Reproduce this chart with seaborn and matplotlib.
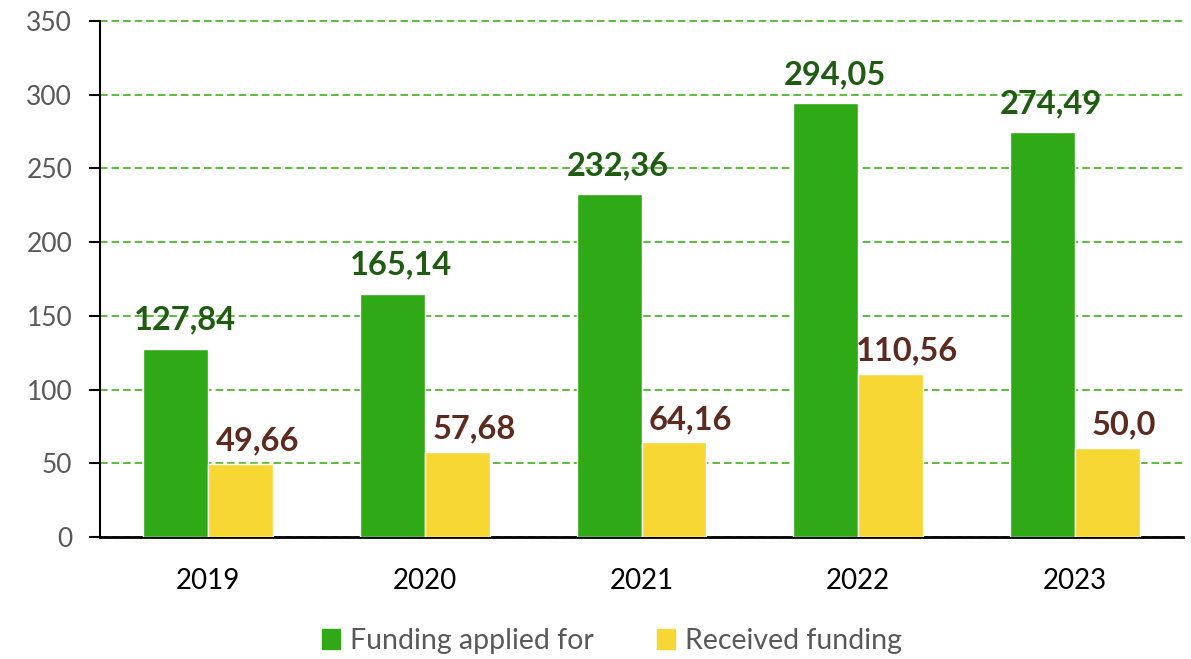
import pandas as pd
import matplotlib.pyplot as plt
import seaborn as sns

# Dữ liệu
years = ["2019", "2020", "2021", "2022", "2023"]
applied = [127.84, 165.14, 232.36, 294.05, 274.49]
received = [49.66, 57.68, 64.16, 110.56, 60.4]
applied_labels = ["127,84", "165,14", "232,36", "294,05", "274,49"]
received_labels = ["49,66", "57,68", "64,16", "110,56", "50,0"]
series_names = ["Funding applied for", "Received funding"]

df = pd.DataFrame({
    "year": years * 2,
    "value": applied + received,
    "series": [series_names[0]] * len(years) + [series_names[1]] * len(years),
})

sns.set_theme(style="white")
plt.rcParams['font.family'] = ['Lato', 'DejaVu Sans']

fig = plt.figure(figsize=(11.91, 6.59), dpi=100)
ax = fig.add_axes([100 / 1191, (659 - 537) / 659, 1083 / 1191, 516 / 659])

palette = {series_names[0]: "#2FA916", series_names[1]: "#F7D733"}
sns.barplot(data=df, x="year", y="value", hue="series", palette=palette,
            width=0.6, gap=0, saturation=1, ax=ax, zorder=3, legend=False)

# nhãn dữ liệu (mỗi chuỗi có độ lệch riêng)
label_colors = ["#1F5C12", "#5E2A20"]
label_texts = [applied_labels, received_labels]
label_offsets = [(6.5, 13.5), (12, 9.5)]
for i, cont in enumerate(ax.containers):
    for bar, txt in zip(cont, label_texts[i]):
        ax.annotate(txt, (bar.get_x() + bar.get_width() / 2, bar.get_height()),
                    xytext=label_offsets[i], textcoords="offset points",
                    ha="center", va="baseline",
                    fontsize=23.5, fontweight="bold", color=label_colors[i], zorder=5)

ax.set_ylim(0, 350)
ax.set_xlim(-0.5, 4.5)
ax.set_yticks(range(0, 351, 50))
ax.yaxis.grid(True, color="#4DB82E", linestyle=(0, (4.2, 2.2)), linewidth=1.3, zorder=0)
ax.xaxis.grid(False)
ax.set_axisbelow(True)
for gl in ax.get_ygridlines():
    gl.set_clip_on(False)

for s in ["top", "right"]:
    ax.spines[s].set_visible(False)
ax.spines["left"].set_color("black")
ax.spines["bottom"].set_color("black")
ax.spines["left"].set_linewidth(1.5)
ax.spines["bottom"].set_linewidth(2)

ax.tick_params(axis="y", which="major", direction="out", length=8, width=1.5,
               color="black", labelsize=19, labelcolor="#595959", left=True, pad=12)
ax.tick_params(axis="x", length=0, labelsize=20, labelcolor="black", pad=22)
ax.set_xlabel("")
ax.set_ylabel("")

# chú thích phía dưới
handles = [plt.Rectangle((0, 0), 1, 1, color=palette[n]) for n in series_names]
leg = fig.legend(handles, series_names, loc="center", bbox_to_anchor=(612 / 1191, 1 - 641 / 659),
                 ncol=2, frameon=False, fontsize=20.5, handlelength=0.65, handleheight=0.65,
                 handletextpad=0.35, columnspacing=2.2)
for t in leg.get_texts():
    t.set_color("#595959")

fig.savefig("out.png", dpi=100)
